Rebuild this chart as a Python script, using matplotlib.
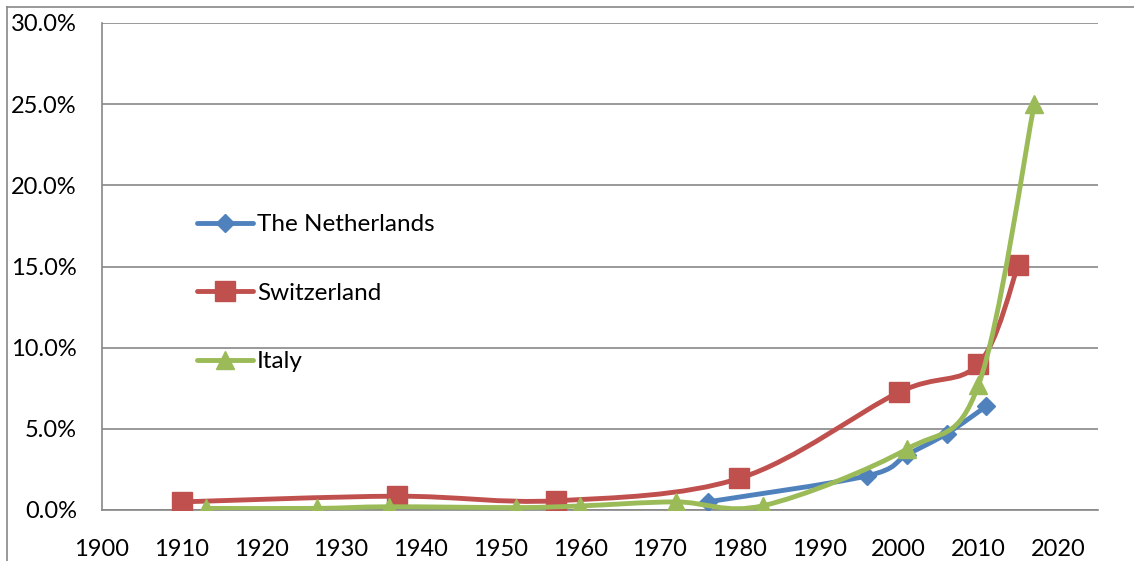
import numpy as np
import matplotlib.pyplot as plt
from matplotlib.path import Path
from matplotlib.patches import PathPatch
from matplotlib.lines import Line2D
from matplotlib.ticker import FuncFormatter

plt.rcParams['font.family'] = ['Lato', 'DejaVu Sans']

# share of population, by year
nl_year = [1976, 1996, 2001, 2006, 2011]
nl_val = [0.005, 0.021, 0.034, 0.047, 0.064]

ch_year = [1910, 1937, 1957, 1980, 2000, 2010, 2015]
ch_val = [0.005, 0.0085, 0.0057, 0.0195, 0.0725, 0.090, 0.151]

it_year = [1913, 1927, 1936, 1952, 1960, 1972, 1983, 2001, 2010, 2017]
it_val = [0.001, 0.001, 0.002, 0.0015, 0.0025, 0.005, 0.0027, 0.0375, 0.077, 0.250]

series = [
    ('The Netherlands', nl_year, nl_val, '#4F81BD', 'D', 9),
    ('Switzerland', ch_year, ch_val, '#C0504D', 's', 14),
    ('Italy', it_year, it_val, '#9BBB59', '^', 13),
]


def smooth_path(xs, ys):
    # catmull-rom style bezier through the points
    p = np.column_stack([xs, ys]).astype(float)
    verts = [p[0]]
    codes = [Path.MOVETO]
    n = len(p)
    for i in range(n - 1):
        p0 = p[i - 1] if i > 0 else p[i]
        p1 = p[i]
        p2 = p[i + 1]
        p3 = p[i + 2] if i + 2 < n else p[i + 1]
        c1 = p1 + (p2 - p0) / 6.0
        c2 = p2 - (p3 - p1) / 6.0
        verts += [c1, c2, p2]
        codes += [Path.CURVE4] * 3
    return Path(verts, codes)


fig = plt.figure(figsize=(11.34, 5.61), dpi=100)
ax = fig.add_axes([102 / 1134, 1 - 510 / 561, (1098 - 102) / 1134, (510 - 23) / 561])

handles = []
for name, xs, ys, col, mk, ms in series:
    ax.add_patch(PathPatch(smooth_path(xs, ys), facecolor='none', edgecolor=col,
                           lw=3.5, capstyle='round', joinstyle='round', zorder=3))
    ax.plot(xs, ys, linestyle='none', marker=mk, markersize=ms, color=col, zorder=3)
    handles.append(Line2D([], [], color=col, lw=3.5, marker=mk, markersize=ms,
                          solid_capstyle='round', label=name))

ax.set_xlim(1900, 2025)
ax.set_ylim(0, 0.30)
ax.set_xticks(range(1900, 2021, 10))
ax.set_yticks(np.arange(0, 0.301, 0.05))
ax.yaxis.set_major_formatter(FuncFormatter(lambda v, p: '%.1f%%' % (v * 100)))
ax.tick_params(length=0, labelsize=17, colors='black')
ax.tick_params(axis='y', pad=18)
ax.tick_params(axis='x', pad=21)

ax.grid(axis='y', color='#878787', lw=1.2)
ax.set_axisbelow(True)
for s in ['top', 'right']:
    ax.spines[s].set_visible(False)
ax.spines['left'].set_color('#878787')
ax.spines['bottom'].set_color('#878787')
ax.spines['left'].set_linewidth(1.2)
ax.spines['bottom'].set_linewidth(1.2)

ax.legend(handles=handles, loc='upper left', bbox_to_anchor=(197 / 1134, 1 - 214 / 561),
          bbox_transform=fig.transFigure, frameon=False, fontsize=17.5, numpoints=1,
          handlelength=2.3, handletextpad=0.17, labelspacing=1.96, borderpad=0,
          borderaxespad=0)

# outer chart border
fig.add_artist(Line2D([7 / 1134, 1], [1 - 7 / 561, 1 - 7 / 561], color='#878787', lw=1.2))
fig.add_artist(Line2D([7 / 1134, 7 / 1134], [0, 1 - 7 / 561], color='#878787', lw=1.2))

fig.savefig('out.png', dpi=100)
